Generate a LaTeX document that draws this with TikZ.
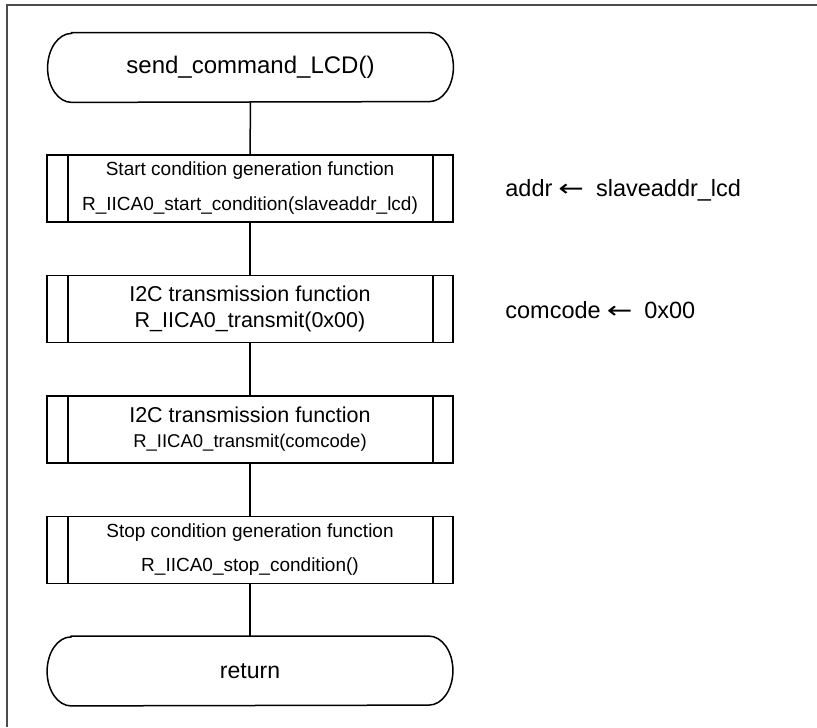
\documentclass[tikz,border=0pt]{standalone}
\usepackage{fontspec}
\usepackage{graphicx}
\setmainfont{Liberation Sans}
\newfontfamily\symfont{DejaVu Sans}
\newcommand\leftarr{\scalebox{1.3}[1]{\symfont ←}}
\newcommand\termoutline[1]{%
  \draw[flowline] ([xshift=12pt]#1.north west) -- ([xshift=-12pt]#1.north east)
    arc[start angle=90,end angle=-90,x radius=12pt,y radius=17.25pt]
    -- ([xshift=12pt]#1.south west)
    arc[start angle=270,end angle=90,x radius=12pt,y radius=17.25pt] -- cycle;}
\begin{document}
\begin{tikzpicture}[x=0.5pt,y=-0.5pt,
  flowline/.style={line width=0.75pt,black},
  frameline/.style={line width=1pt,black!70},
  terminal/.style={minimum width=202.5pt,minimum height=34.5pt,inner sep=0pt},
  subproc/.style={draw,flowline,minimum width=203pt,minimum height=33.5pt,inner sep=0pt,align=center,
    path picture={
      \draw[flowline] ([xshift=10.5pt]path picture bounding box.north west) -- ([xshift=10.5pt]path picture bounding box.south west);
      \draw[flowline] ([xshift=-10pt]path picture bounding box.north east) -- ([xshift=-10pt]path picture bounding box.south east);
    }},
  note/.style={anchor=west,inner sep=0pt,font=\fontsize{11.75}{14}\selectfont}
]
\useasboundingbox (0,0) rectangle (817,727);
\fill[white] (0,0) rectangle (817,727);
% frame (only top and left edges visible)
\draw[frameline] (7,727) -- (7,5) -- (817,5);

\node[terminal,font=\fontsize{12}{14}\selectfont] (start) at (250.5,67.5) {send\_command\_LCD()};
\termoutline{start}

\node[subproc,font=\fontsize{9.5}{17.5}\selectfont] (b1) at (250,188.5)
  {Start condition generation function\\R\_IICA0\_start\_condition(slaveaddr\_lcd)};
\node[subproc,font=\fontsize{10.75}{13}\selectfont] (b2) at (250,309)
  {I2C transmission function\\R\_IICA0\_transmit(0x00)};
\node[subproc,font=\fontsize{10.75}{12.5}\selectfont] (b3) at (250,429.5)
  {I2C transmission function\\{\fontsize{9.25}{12.5}\selectfont R\_IICA0\_transmit(comcode)}};
\node[subproc,font=\fontsize{9.5}{17}\selectfont] (b4) at (250,550)
  {Stop condition generation function\\R\_IICA0\_stop\_condition()};

\node[terminal,font=\fontsize{11.5}{14}\selectfont] (ret) at (250,671) {return};
\termoutline{ret}

\draw[flowline] (start.south) -- (b1.north);
\draw[flowline] (b1.south) -- (b2.north);
\draw[flowline] (b2.south) -- (b3.north);
\draw[flowline] (b3.south) -- (b4.north);
\draw[flowline] (b4.south) -- (ret.north);

\node[note] (n1) at (505,190) {addr\hspace{3pt}\leftarr\hspace{6pt}slaveaddr\_lcd};
\node[note] (n2) at (505,310) {comcode\hspace{3pt}\leftarr\hspace{6pt}0x00};
\end{tikzpicture}
\end{document}
